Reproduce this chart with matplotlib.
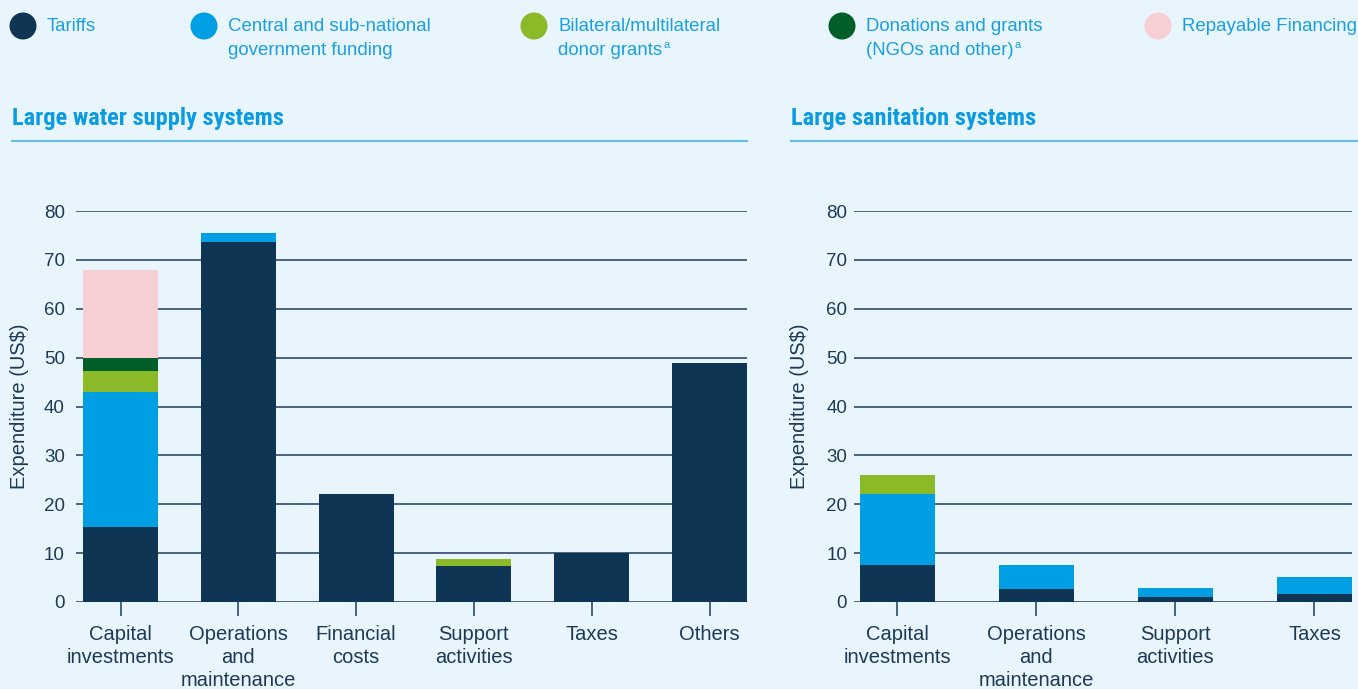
import matplotlib.pyplot as plt
import numpy as np
from matplotlib.patches import Ellipse

plt.rcParams['font.family'] = ['Liberation Sans', 'DejaVu Sans']

# funding sources (stack order, bottom to top); a trailing "^" marks a footnote
sources = [["Tariffs"],
           ["Central and sub-national", "government funding"],
           ["Bilateral/multilateral", "donor grants^"],
           ["Donations and grants", "(NGOs and other)^"],
           ["Repayable Financing"]]
colors = ["#0e3554", "#009fe3", "#8bb928", "#005e29", "#f6cfd2"]

water_cats = ["Capital\ninvestments", "Operations\nand\nmaintenance", "Financial\ncosts",
              "Support\nactivities", "Taxes", "Others"]
water_tariffs = [15.3, 73.7, 22.1, 7.4, 10.0, 48.9]
water_central = [27.7, 1.8, 0, 0, 0, 0]
water_bilateral = [4.3, 0, 0, 1.4, 0, 0]
water_donations = [2.6, 0, 0, 0, 0, 0]
water_repayable = [18.0, 0, 0, 0, 0, 0]

san_cats = ["Capital\ninvestments", "Operations\nand\nmaintenance", "Support\nactivities", "Taxes"]
san_tariffs = [7.6, 2.7, 1.0, 1.6]
san_central = [14.5, 4.9, 1.9, 3.5]
san_bilateral = [3.9, 0, 0, 0]
san_donations = [0, 0, 0, 0]
san_repayable = [0, 0, 0, 0]

yticks = [0, 10, 20, 30, 40, 50, 60, 70, 80]

bg = "#e9f5fd"
navy = "#1d3a55"
grid_c = "#3a5874"
title_c = "#0a9be0"

fig = plt.figure(figsize=(13.58, 6.89), dpi=100, facecolor=bg)


def draw_panel(rect, cats, stacks, width, xlim, pad, lpad, title, tx, line_x1):
    ax = fig.add_axes(rect, facecolor=bg)
    x = np.arange(len(cats))
    bottom = np.zeros(len(cats))
    for vals, c in zip(stacks, colors):
        vals = np.array(vals, dtype=float)
        ax.bar(x, vals, width, bottom=bottom, color=c, linewidth=0, zorder=3)
        bottom += vals
    ax.set_xlim(*xlim)
    ax.set_ylim(0, 80)
    ax.set_yticks(yticks)
    ax.yaxis.grid(True, color=grid_c, linewidth=1.3, zorder=1)
    ax.set_axisbelow(True)
    for s in ax.spines.values():
        s.set_visible(False)
    ax.tick_params(axis='y', length=0, pad=pad, labelsize=13.5, labelcolor=navy)
    ax.set_xticks(x)
    ax.set_xticklabels(cats, fontsize=14.5, color=navy, linespacing=1.28)
    ax.tick_params(axis='x', length=10, width=1.3, color=grid_c, pad=6.5)
    ax.set_ylabel("Expenditure (US$)", fontsize=14.5, color=navy, labelpad=lpad)

    # panel heading with rule underneath
    fig.text(tx / 1358, 1 - 119 / 689, title, fontsize=17.6, fontweight='bold',
             color=title_c, va='center', ha='left',
             family=['Roboto Condensed', 'Liberation Sans Narrow', 'Liberation Sans'])
    fig.add_artist(plt.Line2D([tx / 1358, line_x1 / 1358], [1 - 141 / 689] * 2,
                              color="#62bde9", linewidth=1.5))
    return ax


draw_panel([76 / 1358, 1 - 602 / 689, 671 / 1358, 391 / 689], water_cats,
           [water_tariffs, water_central, water_bilateral, water_donations, water_repayable],
           0.637, (-0.378, 5.318), 8, 10.5, "Large water supply systems", 12, 747)
draw_panel([854 / 1358, 1 - 602 / 689, 498 / 1358, 391 / 689], san_cats,
           [san_tariffs, san_central, san_bilateral, san_donations, san_repayable],
           0.54, (-0.31, 3.27), 5, 12.5, "Large sanitation systems", 791, 1358)

# legend along the top
leg_ax = fig.add_axes([0, 0, 1, 1], facecolor='none')
leg_ax.set_xlim(0, 1358)
leg_ax.set_ylim(689, 0)
leg_ax.axis('off')
circle_x = [23, 204, 534, 842, 1158]
for cx, lines, c in zip(circle_x, sources, colors):
    leg_ax.add_patch(Ellipse((cx, 26), 27, 27, color=c, linewidth=0))
    for i, line in enumerate(lines):
        base = 31 + 24 * i
        t = leg_ax.text(cx + 24, base, line.rstrip("^"), fontsize=13.4, color="#1a9fe0",
                        va='baseline', ha='left')
        if line.endswith("^"):
            fig.canvas.draw()
            bb = t.get_window_extent()
            leg_ax.text(cx + 24 + bb.width + 1, base - 7, "a", fontsize=8,
                        color="#1a9fe0", va='baseline', ha='left')

fig.savefig("out.png", dpi=100, facecolor=bg)
